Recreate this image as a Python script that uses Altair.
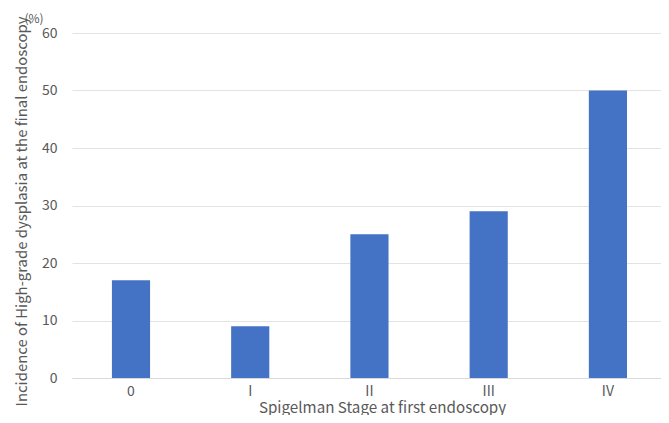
import altair as alt
import pandas as pd

stages = ["0", "I", "II", "III", "IV"]
incidence = [17, 9, 25, 29, 50]

df = pd.DataFrame({"stage": stages, "value": incidence})

FONT = "Noto Sans CJK JP"
TXT = "#595959"

bars = alt.Chart(df).mark_bar(color="#4472C4").encode(
    x=alt.X(
        "stage:N",
        sort=stages,
        scale=alt.Scale(paddingInner=0.68, paddingOuter=0.31, align=0.54),
        axis=alt.Axis(
            title="Spigelman Stage at first endoscopy",
            labelAngle=0,
            labelFont=FONT,
            labelFontSize=14,
            labelColor=TXT,
            labelPadding=6,
            ticks=False,
            domain=True,
            domainColor="#D9D9D9",
            titleFont=FONT,
            titleFontSize=15.2,
            titleFontWeight="normal",
            titleColor=TXT,
            titleAlign="center",
            titleBaseline="alphabetic",
            titleX=310,
            titleY=34,
        ),
    ),
    y=alt.Y(
        "value:Q",
        scale=alt.Scale(domain=[0, 60]),
        axis=alt.Axis(
            title="Incidence of High-grade dysplasia at the final endoscopy",
            values=[0, 10, 20, 30, 40, 50, 60],
            labelFont=FONT,
            labelFontSize=14,
            labelColor=TXT,
            labelPadding=15,
            ticks=False,
            domain=False,
            grid=True,
            gridColor="#E3E3E3",
            titleFont=FONT,
            titleFontSize=14.9,
            titleFontWeight="normal",
            titleColor=TXT,
            titleAngle=270,
            titleAlign="center",
            titleBaseline="alphabetic",
            titleX=-46,
            titleY=178,
        ),
    ),
)

unit = alt.Chart(pd.DataFrame({"t": ["(%)"]})).mark_text(
    font=FONT, fontSize=12, color=TXT, align="center", baseline="middle"
).encode(x=alt.value(-38), y=alt.value(-14), text="t:N")

chart = (
    alt.layer(bars, unit)
    .properties(
        width=589,
        height=345,
        autosize=alt.AutoSizeParams(type="none"),
        padding={"left": 64, "top": 25, "right": 0, "bottom": 37},
    )
    .configure_view(stroke=None)
)

chart.save("out.html", embed_options={"renderer": "svg", "actions": False})
